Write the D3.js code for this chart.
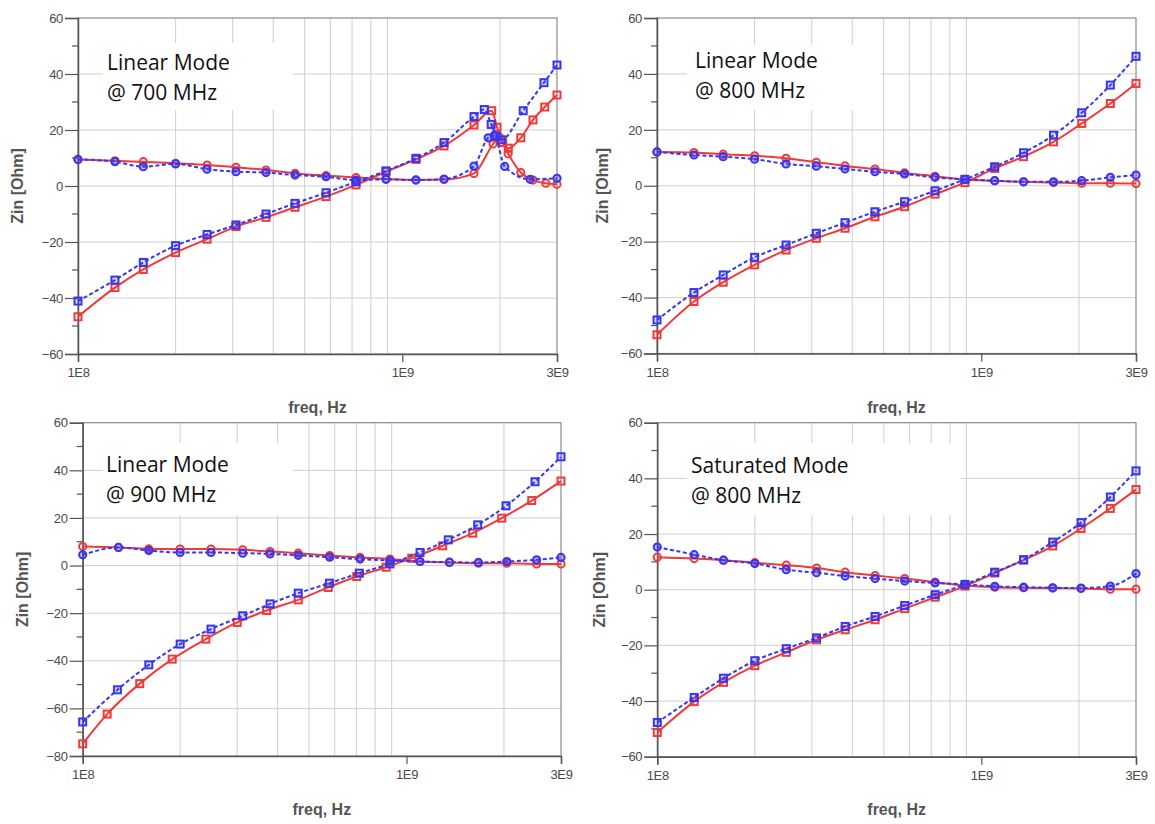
<!DOCTYPE html>
<html><head><meta charset="utf-8">
<script src="https://cdn.jsdelivr.net/npm/d3@7"></script>
<style>html,body{margin:0;padding:0;background:#fff;} svg{display:block;}</style>
</head><body><svg id="c" width="1155" height="824"></svg>
<script>
// ---------- tick labels / titles ----------
const xTickLabels = [["1E8", 100], ["1E9", 1000], ["3E9", 3000]];   // label, MHz
const xGridMHz = [200, 300, 400, 500, 600, 700, 800, 900, 2000];
const yTicksStd = [-60, -40, -20, 0, 20, 40, 60];
const yTicksLow = [-80, -60, -40, -20, 0, 20, 40, 60];
const xAxisTitle = "freq, Hz";
const yAxisTitle = "Zin [Ohm]";
const titles = [
  ["Linear Mode", "@ 700 MHz"],
  ["Linear Mode", "@ 800 MHz"],
  ["Linear Mode", "@ 900 MHz"],
  ["Saturated Mode", "@ 800 MHz"]
];

// ---------- data: [frequency MHz, Zin Ohm] ----------
// Panel 1: Linear Mode @ 700 MHz
const p1RedImag = [[100,-46.7],[130,-36.3],[159,-29.8],[200,-23.8],[250,-19.0],[307,-14.5],[380,-11.2],[467,-7.6],[582,-3.8],[720,0.4],[891,5.1],[1102,9.5],[1345,14.3],[1664,21.8],[1887,26.9],[1960,21.0],[2040,15.5],[2123,13.5],[2320,17.2],[2530,23.6],[2750,28.2],[3000,32.5]];
const p1BlueImag = [[100,-41.1],[130,-33.6],[159,-27.3],[200,-21.3],[250,-17.3],[307,-13.9],[380,-10.0],[467,-6.2],[582,-2.4],[720,1.5],[891,5.4],[1102,9.9],[1345,15.5],[1664,24.8],[1790,27.3],[1880,22.0],[1950,17.8],[2020,16.5],[2360,26.9],[2735,36.9],[3000,43.2]];
const p1RedReal = [[100,9.5],[130,9.0],[159,8.7],[200,8.1],[250,7.5],[307,6.7],[380,5.7],[467,4.5],[582,3.7],[720,3.0],[891,2.5],[1102,2.2],[1345,2.3],[1664,4.5],[1905,15.0],[1990,17.6],[2120,11.5],[2320,4.8],[2530,2.1],[2770,1.0],[3000,0.6]];
const p1BlueReal = [[100,9.5],[130,8.7],[159,6.9],[200,7.9],[250,6.0],[307,5.1],[380,4.8],[467,3.9],[582,3.3],[720,2.1],[891,2.4],[1102,2.1],[1345,2.5],[1664,7.1],[1840,17.2],[1920,18.0],[2070,7.0],[2480,2.4],[3000,2.75]];

// Panel 2: Linear Mode @ 800 MHz
const p2RedImag = [[100,-53.3],[130,-41.4],[160,-34.5],[200,-28.3],[250,-23.0],[310,-18.8],[380,-15.2],[470,-11.1],[580,-7.5],[720,-3.0],[890,1.1],[1100,6.2],[1350,10.4],[1670,15.7],[2040,22.3],[2500,29.4],[3000,36.6]];
const p2BlueImag = [[100,-48.0],[130,-38.2],[160,-31.9],[200,-25.6],[250,-21.2],[310,-17.0],[380,-13.2],[470,-9.3],[580,-5.7],[720,-1.8],[890,2.3],[1100,6.8],[1350,11.8],[1670,18.1],[2040,26.1],[2500,36.0],[3000,46.3]];
const p2RedReal = [[100,12.1],[130,11.9],[160,11.3],[200,10.7],[250,9.8],[310,8.4],[380,7.1],[470,6.0],[580,4.6],[720,3.4],[890,2.2],[1100,1.8],[1350,1.4],[1670,1.2],[2040,0.9],[2500,0.9],[3000,0.8]];
const p2BlueReal = [[100,12.1],[130,11.0],[160,10.4],[200,9.5],[250,7.8],[310,7.0],[380,6.0],[470,5.0],[580,4.2],[720,3.0],[890,2.3],[1100,1.8],[1350,1.4],[1670,1.4],[2040,1.8],[2500,3.0],[3000,3.8]];

// Panel 3: Linear Mode @ 900 MHz
const p3RedImag = [[100,-74.9],[119,-62.4],[150,-49.6],[189,-39.3],[240,-30.9],[300,-23.9],[370,-18.9],[463,-14.4],[573,-9.2],[702,-4.6],[865,-0.7],[1038,3.1],[1293,8.3],[1601,13.6],[1968,19.9],[2436,27.3],[3000,35.5]];
const p3BlueImag = [[100,-65.7],[128,-52.2],[160,-41.7],[200,-33.0],[249,-26.7],[312,-21.1],[379,-16.1],[463,-11.6],[578,-7.4],[715,-3.2],[889,0.7],[1101,5.5],[1346,10.8],[1659,17.1],[2029,25.1],[2494,35.2],[3000,45.7]];
const p3RedReal = [[100,8.0],[129,7.6],[160,7.0],[200,6.9],[249,6.9],[312,6.6],[379,5.9],[463,5.2],[579,4.2],[719,3.4],[889,2.7],[1101,1.7],[1357,1.3],[1668,1.0],[2040,1.0],[2522,0.7],[3000,0.7]];
const p3BlueReal = [[100,4.5],[129,7.6],[160,6.3],[200,5.5],[249,5.5],[312,5.2],[379,4.9],[463,4.3],[579,3.5],[719,2.7],[889,2.1],[1101,1.7],[1357,1.4],[1668,1.3],[2040,1.7],[2522,2.4],[3000,3.4]];

// Panel 4: Saturated Mode @ 800 MHz
const p4RedImag = [[100,-51.3],[130,-40.2],[160,-33.3],[200,-27.3],[250,-22.5],[310,-18.0],[380,-14.4],[470,-10.8],[580,-6.8],[720,-2.7],[890,1.3],[1100,6.0],[1350,10.6],[1660,15.7],[2030,22.0],[2500,29.2],[3000,36.0]];
const p4BlueImag = [[100,-47.7],[130,-38.7],[160,-31.8],[200,-25.5],[250,-21.2],[310,-17.3],[380,-13.2],[470,-9.6],[580,-5.7],[720,-1.8],[890,1.9],[1100,6.3],[1350,10.8],[1660,17.1],[2030,24.1],[2500,33.3],[3000,42.7]];
const p4RedReal = [[100,11.7],[130,11.2],[160,10.6],[200,9.7],[250,8.8],[310,7.8],[380,6.3],[470,5.1],[580,4.0],[720,2.7],[890,1.5],[1100,0.9],[1350,0.7],[1660,0.6],[2030,0.4],[2500,0.2],[3000,0.2]];
const p4BlueReal = [[100,15.3],[130,12.6],[160,10.6],[200,9.4],[250,7.2],[310,6.1],[380,4.9],[470,4.0],[580,3.1],[720,2.4],[890,1.9],[1100,1.2],[1350,0.9],[1660,0.7],[2030,0.6],[2500,1.3],[3000,5.8]];

// ---------- layout (positions only) ----------
const layout = [
  {left:78, right:557, top:18, bottom:354, yMin:-60, yTicks:yTicksStd, yLabX:17, xLabY:413,
   box:[103,43,190,67], tX:107, tY:70, data:[p1RedImag,p1RedReal,p1BlueImag,p1BlueReal]},
  {left:657, right:1136, top:18, bottom:353.5, yMin:-60, yTicks:yTicksStd, yLabX:602, xLabY:413,
   box:[687,45,194,65], tX:695, tY:68, data:[p2RedImag,p2RedReal,p2BlueImag,p2BlueReal]},
  {left:82.7, right:561, top:422.7, bottom:756, yMin:-80, yTicks:yTicksLow, yLabX:22, xLabY:815,
   box:[103,443,190,72], tX:106, tY:472, data:[p3RedImag,p3RedReal,p3BlueImag,p3BlueReal]},
  {left:657.3, right:1136, top:422.7, bottom:756.7, yMin:-60, yTicks:yTicksStd, yLabX:599, xLabY:815,
   box:[687,443,274,72], tX:691, tY:473, data:[p4RedImag,p4RedReal,p4BlueImag,p4BlueReal]}
];

const RED = "#f03a3a", BLUE = "#3636f2";
const styles = [
  {color:RED, dash:null, shape:"square", fill:"none"},
  {color:RED, dash:null, shape:"circle", fill:"none"},
  {color:BLUE, dash:"4,2.5", shape:"square", fill:"rgba(54,54,242,0.18)"},
  {color:BLUE, dash:"4,2.5", shape:"circle", fill:"rgba(54,54,242,0.35)"}
];

const svg = d3.select("#c");
svg.append("rect").attr("width",1155).attr("height",824).attr("fill","#fff");

layout.forEach((L, i) => {
  const g = svg.append("g");
  const x = d3.scaleLog().domain([100, 3000]).range([L.left, L.right]);
  const y = d3.scaleLinear().domain([L.yMin, 60]).range([L.bottom, L.top]);

  // grid
  const grid = g.append("g").attr("stroke", "#cfcfcf").attr("stroke-width", 1);
  xGridMHz.forEach(f => grid.append("line").attr("x1", x(f)).attr("x2", x(f)).attr("y1", L.top).attr("y2", L.bottom));
  L.yTicks.filter(v => v > L.yMin && v < 60).forEach(v =>
    grid.append("line").attr("x1", L.left).attr("x2", L.right).attr("y1", y(v)).attr("y2", y(v)));

  // white label box
  g.append("rect").attr("x", L.box[0]).attr("y", L.box[1]).attr("width", L.box[2]).attr("height", L.box[3]).attr("fill", "#fff");

  // frame
  g.append("rect").attr("x", L.left).attr("y", L.top).attr("width", L.right - L.left).attr("height", L.bottom - L.top)
    .attr("fill", "none").attr("stroke", "#8a8a8a").attr("stroke-width", 1.2);

  // y axis
  const ya = d3.axisLeft(y).tickValues(L.yTicks).tickSize(13).tickPadding(2).tickFormat(d3.format("d"));
  const yg = g.append("g").attr("transform", `translate(${L.left},0)`).call(ya);
  const minor = d3.range(L.yMin + 10, 60, 20);
  minor.forEach(v => g.append("line").attr("x1", L.left - 6).attr("x2", L.left).attr("y1", y(v)).attr("y2", y(v))
    .attr("stroke", "#555").attr("stroke-width", 1.2));

  // x axis
  const xa = d3.axisBottom(x).tickValues(xTickLabels.map(d => d[1])).tickSize(8).tickPadding(6)
    .tickFormat(v => xTickLabels.find(d => d[1] === v)[0]);
  const xg = g.append("g").attr("transform", `translate(0,${L.bottom})`).call(xa);

  [yg, xg].forEach(a => {
    a.select(".domain").attr("stroke", "#555").attr("stroke-width", 1.5);
    a.selectAll(".tick line").attr("stroke", "#555").attr("stroke-width", 1.2);
    a.selectAll(".tick text").attr("fill", "#4a4a4a").style("font-family", "'Liberation Sans', Arial, sans-serif")
      .style("font-size", "13px").style("letter-spacing", "-0.3px");
  });

  // axis titles
  g.append("text").attr("x", (L.left + L.right) / 2).attr("y", L.xLabY).attr("text-anchor", "middle")
    .attr("fill", "#555").style("font-family", "'Liberation Sans', Arial, sans-serif").style("font-size", "16px")
    .style("font-weight", "bold").text(xAxisTitle);
  g.append("text").attr("transform", `translate(${L.yLabX},${(L.top + L.bottom) / 2}) rotate(-90)`)
    .attr("text-anchor", "middle").attr("dy", "0.35em")
    .attr("fill", "#555").style("font-family", "'Liberation Sans', Arial, sans-serif").style("font-size", "16px")
    .style("font-weight", "bold").text(yAxisTitle);

  // curves
  const line = d3.line().x(d => x(d[0])).y(d => y(d[1])).curve(d3.curveMonotoneX);
  [0, 1, 2, 3].forEach(k => {
    const s = styles[k], data = L.data[k];
    g.append("path").datum(data).attr("d", line).attr("fill", "none").attr("stroke", s.color)
      .attr("stroke-width", 2).attr("stroke-dasharray", s.dash);
    const m = g.append("g").attr("fill", s.fill).attr("stroke", s.color).attr("stroke-width", 2);
    if (s.shape === "square") {
      m.selectAll("rect").data(data).join("rect")
        .attr("x", d => x(d[0]) - 3.5).attr("y", d => y(d[1]) - 3.5).attr("width", 7).attr("height", 7);
    } else {
      m.selectAll("circle").data(data).join("circle")
        .attr("cx", d => x(d[0])).attr("cy", d => y(d[1])).attr("r", 3.6);
    }
  });

  // panel title
  const t = g.append("text").attr("fill", "#111").style("font-family", "'Open Sans', sans-serif").style("font-size", "21px");
  t.append("tspan").attr("x", L.tX).attr("y", L.tY).text(titles[i][0]);
  t.append("tspan").attr("x", L.tX).attr("y", L.tY + 30).text(titles[i][1]);
});
</script>
</body></html>
